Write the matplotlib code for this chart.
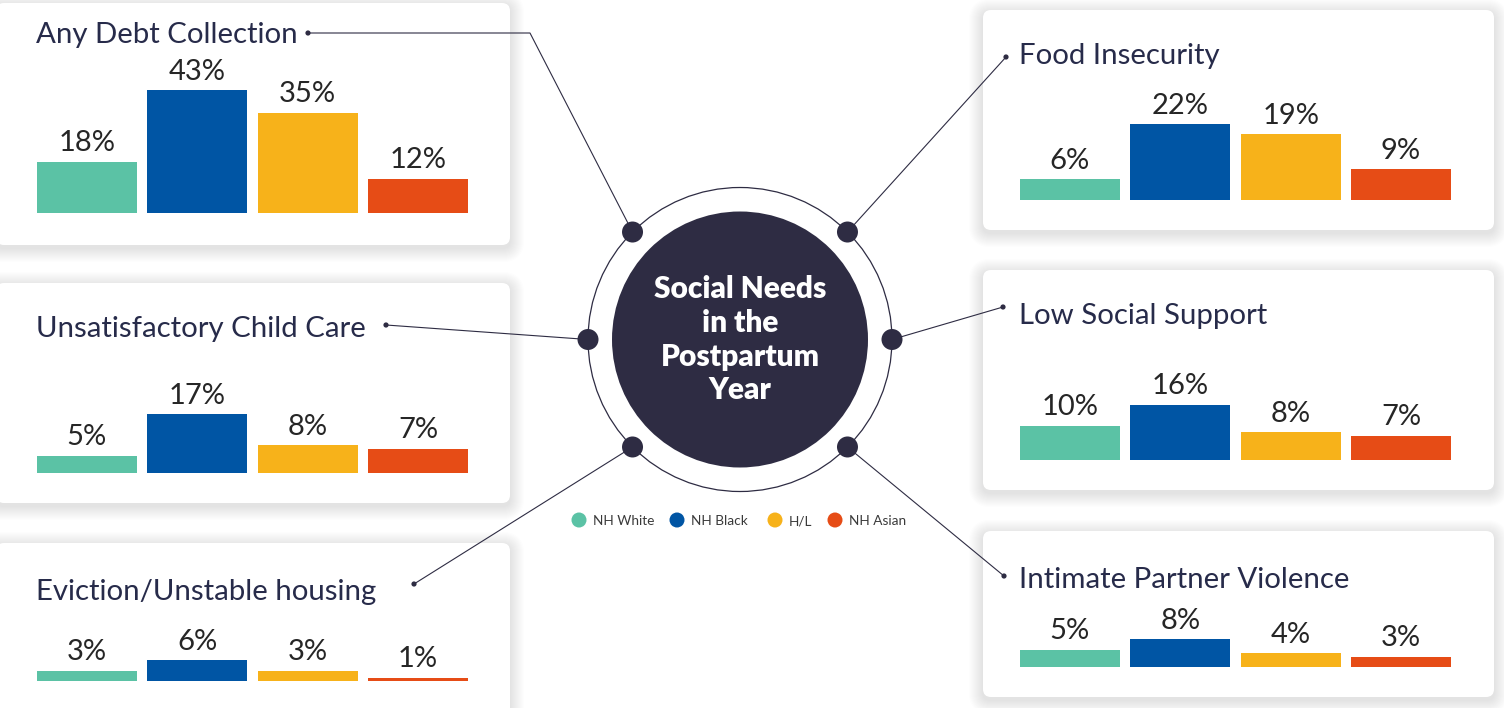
import numpy as np
import matplotlib
matplotlib.use("Agg")
import matplotlib.pyplot as plt
from matplotlib.patches import FancyBboxPatch, Circle

# ---------------------------------------------------- data
groups = ["NH White", "NH Black", "H/L", "NH Asian"]
colors = ["#5bc2a5", "#0055a4", "#f7b21a", "#e64c16"]

needs = ["Any Debt Collection", "Unsatisfactory Child Care", "Eviction/Unstable housing",
         "Food Insecurity", "Low Social Support", "Intimate Partner Violence"]
debt = [18, 43, 35, 12]
child_care = [5, 17, 8, 7]
eviction = [3, 6, 3, 1]
food = [6, 22, 19, 9]
social = [10, 16, 8, 7]
ipv = [5, 8, 4, 3]
values = [debt, child_care, eviction, food, social, ipv]

center_title = ["Social Needs", "in the", "Postpartum", "Year"]

# ---------------------------------------------------- layout (pixels)
W, H = 1504, 708
navy = "#2e2c43"
title_col = "#272b4a"
plt.rcParams['font.family'] = ['Lato', 'DejaVu Sans']

# card box, title (x, baseline), title dot, bars x range, bar baseline, px per %, hub angle
layout = [
    dict(box=(-4, 3, 510, 245), title=(36, 43), dot=(308, 33), bars=(37, 468), base=213, scale=2.86, ang=135, elbow=(530, 33)),
    dict(box=(-4, 283, 510, 503), title=(36, 337), dot=(386, 325), bars=(37, 468), base=473, scale=3.45, ang=180, elbow=None),
    dict(box=(-4, 543, 510, 720), title=(36, 600), dot=(414, 584), bars=(37, 468), base=681, scale=3.45, ang=225, elbow=None),
    dict(box=(983, 10, 1494, 230), title=(1019, 64), dot=(1006, 57), bars=(1020, 1451), base=200, scale=3.45, ang=45, elbow=None),
    dict(box=(983, 270, 1494, 490), title=(1019, 324), dot=(1003, 307), bars=(1020, 1451), base=460, scale=3.45, ang=0, elbow=None),
    dict(box=(983, 531, 1494, 697), title=(1019, 588), dot=(1004, 576), bars=(1020, 1451), base=667, scale=3.45, ang=315, elbow=None),
]

cx, cy = 740, 339.5
ring_r = 152
inner_r = 128

fig = plt.figure(figsize=(W / 100, H / 100), dpi=100)
fig.patch.set_facecolor("white")
ax = fig.add_axes([0, 0, 1, 1])
ax.set_xlim(0, W)
ax.set_ylim(H, 0)
ax.axis("off")

# ---------------------------------------------------- cards with soft shadow
for lay in layout:
    x0, y0, x1, y1 = lay["box"]
    for k in range(14, 0, -1):
        ax.add_patch(FancyBboxPatch((x0 - k, y0 - k + 3), x1 - x0 + 2 * k, y1 - y0 + 2 * k,
                                    boxstyle="round,pad=0,rounding_size=%d" % (8 + k),
                                    fc="#5a5a6a", ec="none", alpha=0.012, zorder=1))
    ax.add_patch(FancyBboxPatch((x0, y0), x1 - x0, y1 - y0, boxstyle="round,pad=0,rounding_size=8",
                                fc="white", ec="none", zorder=2))

# ---------------------------------------------------- central circle
ax.add_patch(Circle((cx, cy), ring_r, fc="white", ec=navy, lw=0.9, zorder=3))
ax.add_patch(Circle((cx, cy), inner_r, fc=navy, ec="none", zorder=4))
for i, line in enumerate(center_title):
    ax.text(cx, 289 + i * 33.8, line, ha="center", va="center", color="white",
            fontsize=21.5, fontweight="heavy", zorder=6)

# ---------------------------------------------------- connectors and titles
for lay, name in zip(layout, needs):
    a = np.deg2rad(lay["ang"])
    hx, hy = cx + ring_r * np.cos(a), cy - ring_r * np.sin(a)
    dx, dy = lay["dot"]
    if lay["elbow"] is not None:
        ex, ey = lay["elbow"]
        ax.plot([dx, ex, hx], [dy, ey, hy], color=navy, lw=0.8, zorder=3)
    else:
        ax.plot([dx, hx], [dy, hy], color=navy, lw=0.8, zorder=3)
    ax.add_patch(Circle((dx, dy), 2.6, fc=navy, ec="none", zorder=5))
    ax.add_patch(Circle((hx, hy), 10.5, fc=navy, ec="none", zorder=5))
    tx, ty = lay["title"]
    ax.text(tx, ty, name, ha="left", va="baseline", color=title_col, fontsize=21.2, zorder=6)

# ---------------------------------------------------- legend
leg_x = [579, 677, 775, 835]
for x, g, c in zip(leg_x, groups, colors):
    ax.add_patch(Circle((x, 520), 7.5, fc=c, ec="none", zorder=5))
    ax.text(x + 14, 521, g, ha="left", va="center", color="#3a3a3a", fontsize=9.8, zorder=6)

# ---------------------------------------------------- bar panels
axh = 160
for lay, vals in zip(layout, values):
    bx0, bx1 = lay["bars"]
    bax = fig.add_axes([bx0 / W, 1 - lay["base"] / H, (bx1 - bx0) / W, axh / H])
    bax.patch.set_alpha(0)
    bax.bar(np.arange(4), vals, width=0.905, color=colors)
    bax.set_xlim(-0.4525, 3.4525)
    bax.set_ylim(0, axh / lay["scale"])
    bax.axis("off")
    for i, v in enumerate(vals):
        bax.annotate("%d%%" % v, (i, v), xytext=(0, 7.5), textcoords="offset points",
                     ha="center", va="baseline", fontsize=21, color="#262626")

fig.savefig("out.png", dpi=100, facecolor="white")
